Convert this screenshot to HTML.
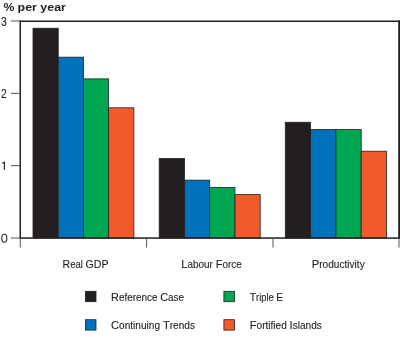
<!DOCTYPE html>
<html><head><meta charset="utf-8"><style>
html,body{margin:0;padding:0;background:#fff;width:400px;height:339px;overflow:hidden}
svg{display:block;will-change:transform;font-family:"Liberation Sans",sans-serif}
</style></head><body>
<svg width="400" height="339" viewBox="0 0 400 339">
<rect x="33.00" y="28.23" width="25.22" height="209.77" fill="#231f20" stroke="#231f20" stroke-width="0.8"/>
<rect x="58.22" y="57.17" width="25.22" height="180.83" fill="#0071bc" stroke="#231f20" stroke-width="0.8"/>
<rect x="83.44" y="78.87" width="25.22" height="159.13" fill="#00a651" stroke="#231f20" stroke-width="0.8"/>
<rect x="108.66" y="107.80" width="25.22" height="130.20" fill="#f15a29" stroke="#231f20" stroke-width="0.8"/>
<rect x="159.20" y="158.43" width="25.25" height="79.57" fill="#231f20" stroke="#231f20" stroke-width="0.8"/>
<rect x="184.45" y="180.13" width="25.25" height="57.87" fill="#0071bc" stroke="#231f20" stroke-width="0.8"/>
<rect x="209.70" y="187.37" width="25.25" height="50.63" fill="#00a651" stroke="#231f20" stroke-width="0.8"/>
<rect x="234.95" y="194.60" width="25.25" height="43.40" fill="#f15a29" stroke="#231f20" stroke-width="0.8"/>
<rect x="285.30" y="122.27" width="25.30" height="115.73" fill="#231f20" stroke="#231f20" stroke-width="0.8"/>
<rect x="310.60" y="129.50" width="25.30" height="108.50" fill="#0071bc" stroke="#231f20" stroke-width="0.8"/>
<rect x="335.90" y="129.50" width="25.30" height="108.50" fill="#00a651" stroke="#231f20" stroke-width="0.8"/>
<rect x="361.20" y="151.20" width="25.30" height="86.80" fill="#f15a29" stroke="#231f20" stroke-width="0.8"/>
<rect x="19.5" y="20.5" width="380.5" height="1.5" fill="#231f20"/>
<rect x="19.5" y="20.5" width="1.5" height="218" fill="#231f20"/>
<rect x="398.2" y="20.5" width="1.8" height="218" fill="#231f20"/>
<rect x="19.5" y="237.3" width="380.5" height="1.5" fill="#231f20"/>
<line x1="11" y1="238.00" x2="20" y2="238.00" stroke="#555" stroke-width="1"/>
<line x1="11" y1="165.67" x2="20" y2="165.67" stroke="#555" stroke-width="1"/>
<line x1="11" y1="93.33" x2="20" y2="93.33" stroke="#555" stroke-width="1"/>
<line x1="11" y1="21.00" x2="20" y2="21.00" stroke="#555" stroke-width="1"/>
<line x1="20.25" y1="238" x2="20.25" y2="247.5" stroke="#555" stroke-width="1"/>
<line x1="146.6" y1="238" x2="146.6" y2="247.5" stroke="#555" stroke-width="1"/>
<line x1="273.0" y1="238" x2="273.0" y2="247.5" stroke="#555" stroke-width="1"/>
<line x1="399.0" y1="238" x2="399.0" y2="247.5" stroke="#555" stroke-width="1"/>
<rect x="85.4" y="291.29999999999995" width="10.6" height="10.4" fill="#231f20" stroke="#231f20" stroke-width="0.8"/>
<rect x="85.4" y="319.7" width="10.6" height="10.4" fill="#0071bc" stroke="#231f20" stroke-width="0.8"/>
<rect x="223.9" y="291.29999999999995" width="10.6" height="10.4" fill="#00a651" stroke="#231f20" stroke-width="0.8"/>
<rect x="223.9" y="319.7" width="10.6" height="10.4" fill="#f15a29" stroke="#231f20" stroke-width="0.8"/>
<text x="3.6" y="10.6" font-size="11" font-weight="bold" fill="#231f20" textLength="10.9" lengthAdjust="spacingAndGlyphs">%</text>
<text x="17.6" y="10.6" font-size="10.2" font-weight="bold" fill="#231f20" textLength="48.3" lengthAdjust="spacingAndGlyphs">per year</text>
<text x="1.1" y="26.0" font-size="12.3" fill="#2a2627" stroke="#2a2627" stroke-width="0.1" textLength="5.8" lengthAdjust="spacingAndGlyphs">3</text>
<text x="1.1" y="97.8" font-size="12.3" fill="#2a2627" stroke="#2a2627" stroke-width="0.1" textLength="5.8" lengthAdjust="spacingAndGlyphs">2</text>
<ellipse cx="4.3" cy="238.3" rx="2.55" ry="4.0" fill="none" stroke="#2a2627" stroke-width="1.1"/>
<path d="M4.4 170 V162.1 L2.3 163.4" fill="none" stroke="#2a2627" stroke-width="1.15" stroke-linejoin="round"/>
<text x="62.5" y="268.1" font-weight="normal" fill="#231f20" stroke="#231f20" stroke-width="0.12" textLength="46" lengthAdjust="spacingAndGlyphs"><tspan font-size="11.6">R</tspan><tspan font-size="10.4">eal </tspan><tspan font-size="11.6">GDP</tspan></text>
<text x="181.3" y="268.2" font-weight="normal" fill="#231f20" stroke="#231f20" stroke-width="0.12" textLength="60.5" lengthAdjust="spacingAndGlyphs"><tspan font-size="11.6">L</tspan><tspan font-size="10.4">abour </tspan><tspan font-size="11.6">F</tspan><tspan font-size="10.4">orce</tspan></text>
<text x="311.7" y="268.2" font-weight="normal" fill="#231f20" stroke="#231f20" stroke-width="0.12" textLength="53" lengthAdjust="spacingAndGlyphs"><tspan font-size="11.6">P</tspan><tspan font-size="10.4">roductivity</tspan></text>
<text x="111" y="300.6" font-weight="normal" fill="#231f20" stroke="#231f20" stroke-width="0.12" textLength="73" lengthAdjust="spacingAndGlyphs"><tspan font-size="11.5">R</tspan><tspan font-size="10.4">eference </tspan><tspan font-size="11.5">C</tspan><tspan font-size="10.4">ase</tspan></text>
<text x="111" y="329.2" font-weight="normal" fill="#231f20" stroke="#231f20" stroke-width="0.12" textLength="84" lengthAdjust="spacingAndGlyphs"><tspan font-size="11.5">C</tspan><tspan font-size="10.4">ontinuing </tspan><tspan font-size="11.5">T</tspan><tspan font-size="10.4">rends</tspan></text>
<text x="249.7" y="300.5" font-weight="normal" fill="#231f20" stroke="#231f20" stroke-width="0.12" textLength="33.5" lengthAdjust="spacingAndGlyphs"><tspan font-size="11.5">T</tspan><tspan font-size="10.4">riple </tspan><tspan font-size="11.5">E</tspan></text>
<text x="249.7" y="328.9" font-weight="normal" fill="#231f20" stroke="#231f20" stroke-width="0.12" textLength="72.2" lengthAdjust="spacingAndGlyphs"><tspan font-size="11.5">F</tspan><tspan font-size="10.4">ortified </tspan><tspan font-size="11.5">I</tspan><tspan font-size="10.4">slands</tspan></text>
</svg>
</body></html>
